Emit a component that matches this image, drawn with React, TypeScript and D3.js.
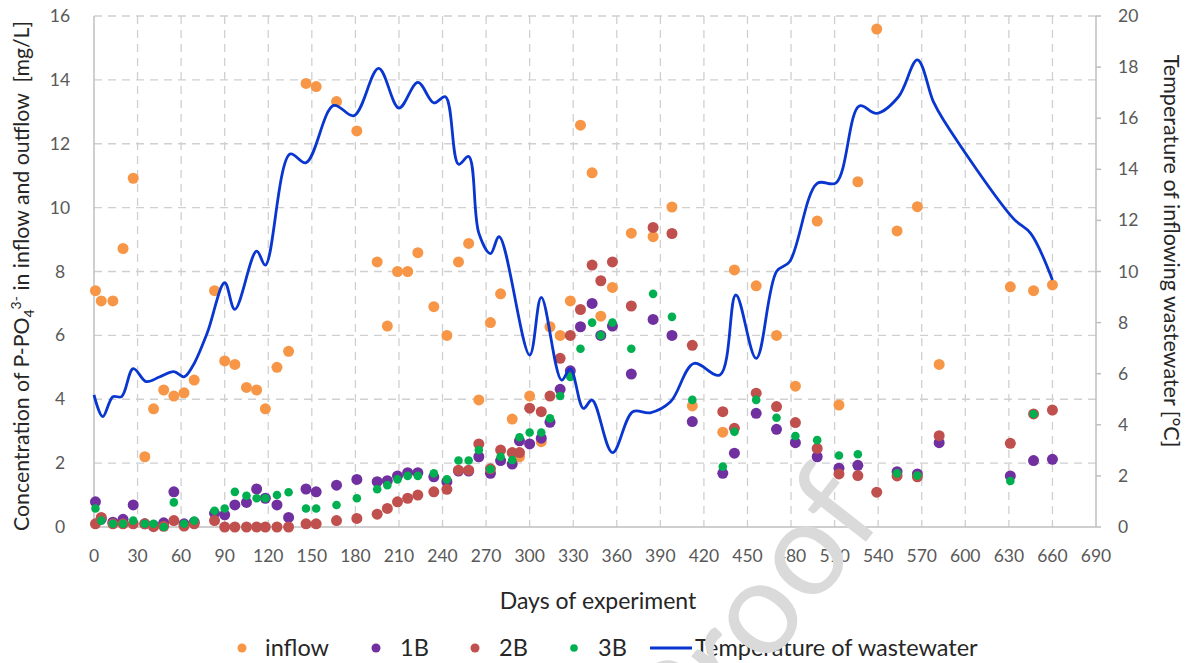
import React from 'react';
import * as d3 from 'd3';

// ---------- data ----------
const sampleDays = [
  1, 5, 13, 20, 27, 35, 41, 48, 55, 62, 69, 83, 90, 97, 105, 112, 118, 126, 134,
  146, 153, 167, 181, 195, 202, 209, 216, 223, 234, 243, 251, 258, 265, 273, 280,
  288, 293, 300, 308, 314, 321, 328, 335, 343, 349, 357, 370, 385, 398, 412, 433,
  441, 456, 470, 483, 498, 513, 526, 539, 553, 567, 582, 631, 647, 660,
];

const inflow = [
  7.4, 7.08, 7.08, 8.72, 10.92, 2.2, 3.7, 4.29, 4.1, 4.2, 4.6, 7.4, 5.2, 5.09, 4.37, 4.29, 3.7, 5.0, 5.5,
  13.89, 13.79, 13.32, 12.4, 8.3, 6.29, 8.0, 8.0, 8.59, 6.9, 6.0, 8.3, 8.88, 3.98, 6.4, 7.3,
  3.38, 2.2, 4.1, 2.67, 6.27, 6.0, 7.08, 12.58, 11.09, 6.6, 7.5, 9.2, 9.09, 10.02, 3.79, 2.97,
  8.05, 7.55, 6.0, 4.41, 9.58, 3.82, 10.81, 15.59, 9.27, 10.03, 5.09, 7.52, 7.4, 7.58,
];

const bed1B = [
  0.79, 0.25, 0.15, 0.24, 0.69, 0.1, 0.05, 0.13, 1.1, 0.1, 0.15, 0.43, 0.38, 0.69, 0.77, 1.19, 0.9, 0.69, 0.3,
  1.19, 1.1, 1.31, 1.49, 1.42, 1.45, 1.6, 1.7, 1.7, 1.57, 1.42, 1.75, 1.75, 2.2, 1.68, 2.08,
  1.97, 2.7, 2.6, 2.78, 3.28, 4.31, 4.89, 6.27, 7.0, 6.0, 6.29, 4.79, 6.5, 6.0, 3.3, 1.68,
  2.31, 3.56, 3.06, 2.64, 2.2, 1.84, 1.93, null, 1.73, 1.66, 2.64, 1.6, 2.08, 2.12,
];

const bed2B = [
  0.1, 0.3, 0.1, 0.1, 0.1, 0.1, 0.01, 0.02, 0.2, 0.03, 0.1, 0.2, 0, 0, 0, 0, 0, 0, 0,
  0.1, 0.1, 0.2, 0.27, 0.4, 0.58, 0.79, 0.9, 1.0, 1.1, 1.18, 1.78, 1.78, 2.6, 1.82, 2.41,
  2.33, 2.33, 3.72, 3.61, 4.1, 5.28, 6.0, 6.81, 8.2, 7.71, 8.3, 6.92, 9.38, 9.19, 5.69, 3.61,
  3.09, 4.19, 3.77, 3.27, 2.46, 1.66, 1.61, 1.09, 1.6, 1.57, 2.86, 2.62, 3.54, 3.66,
];

const bed3B = [
  0.58, 0.2, 0.1, 0.1, 0.2, 0.1, 0.1, 0.0, 0.77, 0.1, 0.2, 0.51, 0.58, 1.1, 0.98, 0.9, 0.9, 1.0, 1.09,
  0.58, 0.58, 0.69, 0.9, 1.18, 1.31, 1.49, 1.6, 1.6, 1.68, 1.49, 2.08, 2.08, 2.41, 1.81, 2.2,
  2.1, 2.81, 2.96, 2.96, 3.4, 4.1, 4.7, 5.58, 6.4, 6.0, 6.4, 5.58, 7.3, 6.58, 3.98, 1.89,
  2.98, 3.98, 3.42, 2.85, 2.72, 2.24, 2.28, null, 1.68, 1.61, null, 1.44, 3.54, null,
];

const tempDays = [
  0, 6, 13, 19, 27, 36, 45, 55, 62, 68, 78, 90, 97, 112, 118, 135, 146, 165, 179, 196,
  210, 223, 234, 242, 251, 258, 265, 273, 279, 300, 308, 322, 328, 337, 343, 357, 371,
  383, 397, 413, 431, 442, 456, 470, 479, 498, 511, 527, 539, 554, 567, 578, 585, 633, 645, 660,
];
const tempValues = [
  5.17, 4.32, 5.1, 5.1, 6.2, 5.69, 5.87, 6.08, 5.88, 6.3, 7.6, 9.56, 8.52, 10.8, 10.25, 14.6, 14.26, 16.5, 16.1, 17.95,
  16.4, 17.4, 16.6, 16.84, 14.2, 14.5, 11.5, 10.7, 11.36, 6.73, 8.99, 5.75, 6.2, 4.64, 4.97, 2.91, 4.51,
  4.47, 4.9, 6.4, 5.95, 9.08, 6.6, 10.0, 10.38, 13.45, 13.47, 16.48, 16.19, 16.84, 18.28, 16.65, 15.93, 12.08, 11.49, 9.67,
];

const xTicks = [0, 30, 60, 90, 120, 150, 180, 210, 240, 270, 300, 330, 360, 390, 420, 450, 480, 510, 540, 570, 600, 630, 660, 690];
const yLeftTicks = [0, 2, 4, 6, 8, 10, 12, 14, 16];
const yRightTicks = [0, 2, 4, 6, 8, 10, 12, 14, 16, 18, 20];

const seriesNames = ['inflow', '1B', '2B', '3B'];
const seriesColors = ['#F79646', '#7030A0', '#C0504D', '#00B050'];
const lineName = 'Temperature of wastewater';
const lineColor = '#0A36D0';
const watermark = 'Proof';

const FONT = 'Lato, "Open Sans", sans-serif';

export default function App() {
  const left = 94, right = 1096, top = 16, bottom = 527;
  const x = d3.scaleLinear().domain([0, 690]).range([left, right]);
  const yL = d3.scaleLinear().domain([0, 16]).range([bottom, top]);
  const yR = d3.scaleLinear().domain([0, 20]).range([bottom, top]);

  const tempPts: [number, number][] = tempDays.map((d, i) => [d, tempValues[i]]);
  const lineGen = d3
    .line<[number, number]>()
    .x((d) => x(d[0]))
    .y((d) => yR(d[1]))
    .curve(d3.curveCatmullRom.alpha(0.5));

  const seriesValues = [inflow, bed1B, bed2B, bed3B];
  const radii = [5.5, 5.5, 5.5, 4.3];

  const gridColor = '#D0D0D0';
  const axisColor = '#BFBFBF';

  // legend layout
  const legY = 648;
  const legendItems = [
    { dot: 242, text: 265 },
    { dot: 376, text: 400 },
    { dot: 475, text: 499 },
    { dot: 574, text: 598 },
  ];

  return (
    <svg
      width={1186}
      height={663}
      style={{ position: 'absolute', left: 0, top: 0, background: '#fff' }}
      fontFamily={FONT}
    >
      <rect x={0} y={0} width={1186} height={663} fill="#fff" />
      {/* horizontal gridlines */}
      {yLeftTicks.filter((t) => t > 0).map((t) => (
        <line key={'h' + t} x1={left} x2={right} y1={yL(t)} y2={yL(t)} stroke={gridColor} strokeWidth={1.3} strokeDasharray="8,6" />
      ))}
      {/* vertical gridlines */}
      {xTicks.filter((t) => t > 0 && t < 690).map((t) => (
        <line key={'v' + t} x1={x(t)} x2={x(t)} y1={top} y2={bottom} stroke={gridColor} strokeWidth={1.3} strokeDasharray="8,6" />
      ))}
      {/* axes */}
      <line x1={left} x2={left} y1={top} y2={bottom} stroke={axisColor} strokeWidth={1.5} />
      <line x1={left} x2={right} y1={bottom} y2={bottom} stroke={axisColor} strokeWidth={1.5} />
      <line x1={right} x2={right} y1={top} y2={bottom} stroke={axisColor} strokeWidth={1.5} />
      {yRightTicks.map((t) => (
        <line key={'rt' + t} x1={right} x2={right + 5} y1={yR(t)} y2={yR(t)} stroke={axisColor} strokeWidth={1.5} />
      ))}

      {/* left tick labels */}
      {yLeftTicks.map((t) => (
        <text key={'lt' + t} x={60} y={yL(t) + 6} textAnchor="middle" fontSize={17.5} fill="#595959">
          {t}
        </text>
      ))}
      {/* right tick labels */}
      {yRightTicks.map((t) => (
        <text key={'rl' + t} x={1118} y={yR(t) + 6} textAnchor="start" fontSize={17.5} fill="#595959">
          {t}
        </text>
      ))}
      {/* x tick labels */}
      {xTicks.map((t) => (
        <text key={'xt' + t} x={x(t)} y={562} textAnchor="middle" fontSize={17.5} fill="#595959">
          {t}
        </text>
      ))}

      {/* scatter series */}
      {seriesValues.map((vals, si) => (
        <g key={'s' + si} fill={seriesColors[si]}>
          {vals.map((v, i) =>
            v === null ? null : <circle key={i} cx={x(sampleDays[i])} cy={yL(v)} r={radii[si]} />
          )}
        </g>
      ))}

      {/* temperature line */}
      <path d={lineGen(tempPts) || ''} fill="none" stroke={lineColor} strokeWidth={2.8} strokeLinejoin="round" />

      {/* axis titles */}
      <text
        transform={`translate(29,${276}) rotate(-90)`}
        textAnchor="middle"
        fontSize={21.3}
        fill="#262626"
        style={{ whiteSpace: 'pre' }}
      >
        Concentration of P-PO
        <tspan fontSize={14} dy={5}>4</tspan>
        <tspan fontSize={14} dy={-13}>3-</tspan>
        <tspan dy={8}>{' in inflow and outflow  [mg/L]'}</tspan>
      </text>
      <text transform={`translate(1164,${251}) rotate(90)`} textAnchor="middle" fontSize={21.5} fill="#262626">
        Temperature of inflowing wastewater [°C]
      </text>
      <text x={598} y={609} textAnchor="middle" fontSize={23} fill="#262626">
        Days of experiment
      </text>

      {/* legend */}
      {legendItems.map((it, i) => (
        <g key={'lg' + i}>
          <circle cx={it.dot} cy={legY} r={i === 3 ? 3.8 : 4.5} fill={seriesColors[i]} />
          <text x={it.text} y={legY + 8} fontSize={23.5} fill="#262626">
            {seriesNames[i]}
          </text>
        </g>
      ))}
      <line x1={650} x2={692} y1={legY} y2={legY} stroke={lineColor} strokeWidth={2.8} />
      <text x={695} y={legY + 8} fontSize={23.5} fill="#262626">
        {lineName}
      </text>

      {/* watermark */}
      <text
        transform="translate(886,516) rotate(-52)"
        textAnchor="end"
        fontSize={132}
        fill="#DADADA"
        fontFamily={FONT}
      >
        {watermark}
      </text>
    </svg>
  );
}
